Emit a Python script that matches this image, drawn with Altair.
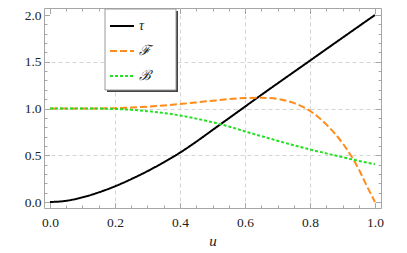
import altair as alt
import pandas as pd

# ---- data ----
u = [0.0, 0.05, 0.1, 0.15, 0.2, 0.25, 0.3, 0.35, 0.4, 0.45, 0.5,
     0.55, 0.6, 0.65, 0.7, 0.75, 0.8, 0.85, 0.9, 0.95, 0.975, 1.0]
tau = [0.0, 0.013, 0.05, 0.103, 0.168, 0.245, 0.33, 0.425, 0.528, 0.645, 0.77,
       0.895, 1.02, 1.145, 1.268, 1.39, 1.512, 1.635, 1.757, 1.879, 1.94, 2.0]
F = [1.0, 1.0, 1.0, 1.001, 1.004, 1.01, 1.02, 1.033, 1.048, 1.065, 1.083,
     1.1, 1.112, 1.115, 1.102, 1.06, 0.975, 0.83, 0.63, 0.35, 0.17, 0.0]
B = [1.0, 1.0, 1.0, 0.999, 0.995, 0.986, 0.972, 0.952, 0.925, 0.892, 0.853,
     0.808, 0.755, 0.705, 0.655, 0.607, 0.562, 0.52, 0.48, 0.44, 0.422, 0.405]
names = ["τ", "ℱ", "ℬ"]
colors = ["#000000", "#ff8c1a", "#22e022"]
dashes = [[1, 0], [7, 3], [3, 2]]

x_major = [0.0, 0.2, 0.4, 0.6, 0.8, 1.0]
x_grid = [0.2, 0.4, 0.6, 0.8]
x_all = [round(i * 0.05, 2) for i in range(21)]
y_major = [0.0, 0.5, 1.0, 1.5, 2.0]
y_grid = [0.5, 1.0, 1.5]
y_all = [round(i * 0.1, 1) for i in range(21)]

rows = []
for n, vals in zip(names, [tau, F, B]):
    for a, b in zip(u, vals):
        rows.append({"u": a, "v": b, "s": n})
df = pd.DataFrame(rows)

W, H = 337, 200
xs = alt.Scale(domain=[-0.01846, 1.01846], nice=False, zero=False)
ys = alt.Scale(domain=[-0.064, 2.075], nice=False, zero=False)

FRAME = "#a6a6a6"
GRID = "#d4d4d4"
FONT = "Liberation Serif"

majx = "abs(datum.value*5 - round(datum.value*5)) < 0.001"
majy = "abs(datum.value*2 - round(datum.value*2)) < 0.001"

def tick_axis(orient, values, test):
    return alt.Axis(orient=orient, offset=-(H if orient in ("top", "bottom") else W),
                    values=values, labels=False, domain=False, grid=False, title=None,
                    ticks=True, tickColor=FRAME, tickWidth=1,
                    tickSize={"condition": {"test": test, "value": 5.5}, "value": 3})

base = alt.Chart(df)

grid = base.mark_line(opacity=0).encode(
    x=alt.X("u:Q", scale=xs, axis=alt.Axis(values=x_grid, grid=True, gridColor=GRID,
            gridDash=[4, 3], gridWidth=1, labels=False, ticks=False, domain=False, title=None)),
    y=alt.Y("v:Q", scale=ys, axis=alt.Axis(values=y_grid, grid=True, gridColor=GRID,
            gridDash=[4, 3], gridWidth=1, labels=False, ticks=False, domain=False, title=None)),
    detail="s:N",
)

leg = alt.Legend(title=None, orient="none", legendX=65, legendY=5, symbolType="stroke",
                 symbolSize=576, symbolStrokeWidth=2, labelFont=FONT, labelFontSize=14,
                 labelFontStyle="italic", labelColor="#222", labelOffset=4, rowPadding=5,
                 padding=0)

lines = base.mark_line(strokeWidth=2, interpolate="monotone").encode(
    x=alt.X("u:Q", scale=xs, axis=alt.Axis(orient="bottom", values=x_major, format=".1f",
            grid=False, ticks=False, domain=False, labelFont=FONT, labelFontSize=13.5,
            labelColor="#222", labelPadding=7, labelFlush=False, labelOverlap=False,
            title="u", titleFont=FONT, titleFontSize=15, titleFontStyle="italic",
            titleFontWeight="normal", titleColor="#222", titlePadding=5)),
    y=alt.Y("v:Q", scale=ys, axis=alt.Axis(orient="left", values=y_major, format=".1f",
            grid=False, ticks=False, domain=False, labelFont=FONT, labelFontSize=13.5,
            labelColor="#222", labelPadding=3, labelFlush=False, labelOverlap=False,
            title=None)),
    color=alt.Color("s:N", scale=alt.Scale(domain=names, range=colors), legend=leg),
    strokeDash=alt.StrokeDash("s:N", scale=alt.Scale(domain=names, range=dashes), legend=leg),
)

ticks_in = base.mark_line(opacity=0).encode(
    x=alt.X("u:Q", scale=xs, axis=tick_axis("top", x_all, majx)),
    y=alt.Y("v:Q", scale=ys, axis=tick_axis("right", y_all, majy)),
    detail="s:N",
)
ticks_out = base.mark_line(opacity=0).encode(
    x=alt.X("u:Q", scale=xs, axis=tick_axis("bottom", x_all, majx)),
    y=alt.Y("v:Q", scale=ys, axis=tick_axis("left", y_all, majy)),
    detail="s:N",
)

one = pd.DataFrame({"k": [0]})
shadow = alt.Chart(one).mark_rect(fill="#444444").encode(
    x=alt.value(63), x2=alt.value(134), y=alt.value(3), y2=alt.value(84))
box = alt.Chart(one).mark_rect(fill="white", stroke="#9a9a9a", strokeWidth=1).encode(
    x=alt.value(61), x2=alt.value(132), y=alt.value(1), y2=alt.value(82))

chart = alt.layer(grid, lines, ticks_in, ticks_out, shadow, box).resolve_axis(
    x="independent", y="independent"
).properties(
    width=W, height=H, autosize=alt.AutoSizeParams(type="none"),
    padding={"left": 36, "top": 0, "right": 10, "bottom": 45},
).configure_view(stroke=FRAME, strokeWidth=1)

chart.save("out.html", embed_options={"renderer": "svg", "actions": False})
